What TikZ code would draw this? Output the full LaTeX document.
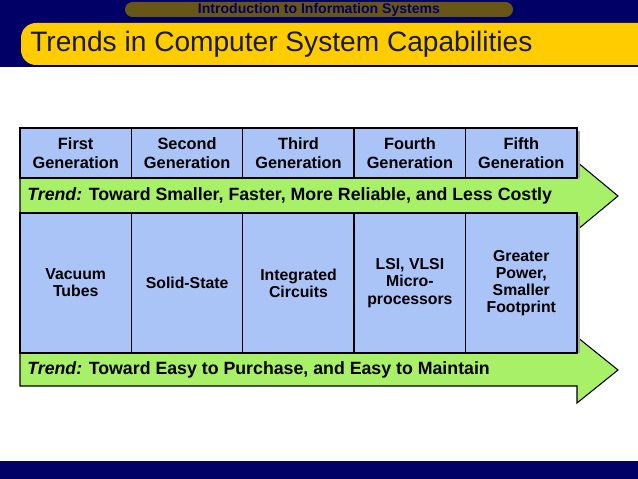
\documentclass[tikz,border=0pt]{standalone}
\usepackage{fontspec}
\setmainfont{Liberation Sans}
\usepackage{xcolor}
\definecolor{slnavy}{RGB}{0,0,102}
\definecolor{slyellow}{RGB}{255,204,0}
\definecolor{slolive}{RGB}{104,86,22}
\definecolor{slblue}{RGB}{170,196,248}
\definecolor{slgreen}{RGB}{168,240,104}
\definecolor{slink}{RGB}{26,26,30}
\usetikzlibrary{positioning}
\tikzset{
  genbox/.style={draw, line width=0.8pt, fill=slblue, font=\fontsize{9.3}{10.8}\selectfont\bfseries,
                 minimum width=2.23cm, minimum height=1cm, align=center, inner sep=1pt},
  techbox/.style={genbox, minimum height=2.8cm, font=\fontsize{9}{9.8}\selectfont\bfseries},
  trendarrow/.style={draw, line width=0.6pt, fill=slgreen},
  trendtext/.style={anchor=west, inner sep=0pt, font=\fontsize{10.1}{11}\selectfont\bfseries},
}

\begin{document}
\begin{tikzpicture}[x=0.02cm, y=-0.02cm]
\useasboundingbox (0,0) rectangle (638,479);
\clip (0,0) rectangle (638,479);

% Title bands
\fill[slnavy] (0,0) rectangle (638,67);
\fill[slnavy] (0,461) rectangle (638,479);
\fill[slyellow, rounded corners=0.3cm] (21,23) rectangle (680,65);
\node[fill=slolive, rounded corners=0.15cm, minimum width=7.76cm, minimum height=0.3cm,
      inner sep=0pt, text=slnavy, font=\fontsize{8}{9}\selectfont\bfseries] (course) at (319,9.5)
      {Introduction to Information Systems};
\node[anchor=west, inner sep=0pt, text=slink, font=\fontsize{16}{18}\selectfont] (title) at (30,44)
      {Trends in Computer System Capabilities};

% Trend arrows
\draw[trendarrow] (20,178) -- (577,178) -- (577,162) -- (618,196) -- (577,230)
      -- (577,213) -- (20,213) -- cycle;
\draw[trendarrow] (20,353) -- (577,353) -- (577,337) -- (618,370) -- (577,403)
      -- (577,386) -- (20,386) -- cycle;
\node[trendtext] (trend1) at (27,196)
      {\textit{Trend:} Toward Smaller, Faster, More Reliable, and Less Costly};
\node[trendtext] (trend2) at (27,370)
      {\textit{Trend:} Toward Easy to Purchase, and Easy to Maintain};

% Shadow on the right
\fill[black!35] (577,131) rectangle (580,178);
\fill[black!35] (577,216) rectangle (580,353);

% Generations
\node[genbox] (gen1) at (75.7,153) {First\\Generation};
\node[genbox] (gen2) at (187.1,153) {Second\\Generation};
\node[genbox] (gen3) at (298.5,153) {Third\\Generation};
\node[genbox] (gen4) at (409.9,153) {Fourth\\Generation};
\node[genbox] (gen5) at (521.3,153) {Fifth\\Generation};

% Technologies
\node[techbox] (tech1) at (75.7,283) {Vacuum\\Tubes};
\node[techbox] (tech2) at (187.1,283) {Solid-State};
\node[techbox] (tech3) at (298.5,283) {Integrated\\Circuits};
\node[techbox] (tech4) at (409.9,283) {LSI, VLSI\\Micro-\\processors};
\node[techbox] (tech5) at (521.3,283) {Greater\\Power,\\Smaller\\Footprint};

\end{tikzpicture}
\end{document}
